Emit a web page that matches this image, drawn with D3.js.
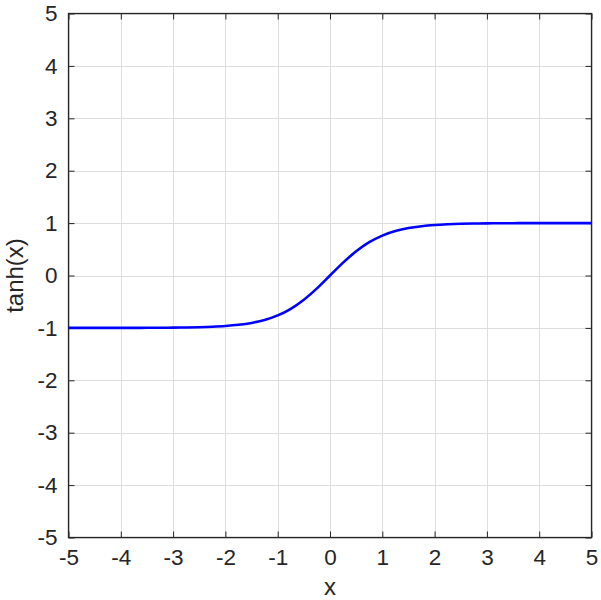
<!DOCTYPE html>
<html>
<head>
<meta charset="utf-8">
<script src="https://cdn.jsdelivr.net/npm/d3@7"></script>
<style>
  body { margin: 0; background: #fff; }
  text { font-family: "Liberation Sans", Arial, Helvetica, sans-serif; fill: #262626; }
</style>
</head>
<body>
<div id="chart"></div>
<script>
// values
var xValues = [-5, -4.75, -4.5, -4.25, -4, -3.75, -3.5, -3.25, -3, -2.75, -2.5, -2.25, -2, -1.75, -1.5, -1.25, -1, -0.75, -0.5, -0.25,
               0, 0.25, 0.5, 0.75, 1, 1.25, 1.5, 1.75, 2, 2.25, 2.5, 2.75, 3, 3.25, 3.5, 3.75, 4, 4.25, 4.5, 4.75, 5];
var yValues = [-1.0, -1.0, -1.0, -1.0, -0.999, -0.999, -0.998, -0.997, -0.995, -0.992, -0.987, -0.978, -0.964, -0.941, -0.905, -0.848, -0.762, -0.635, -0.462, -0.245,
               0, 0.245, 0.462, 0.635, 0.762, 0.848, 0.905, 0.941, 0.964, 0.978, 0.987, 0.992, 0.995, 0.997, 0.998, 0.999, 0.999, 1.0, 1.0, 1.0, 1.0];
var xTicks = [-5, -4, -3, -2, -1, 0, 1, 2, 3, 4, 5];
var yTicks = [-5, -4, -3, -2, -1, 0, 1, 2, 3, 4, 5];

var w = 601, h = 600,
    padL = 68.5, padR = 591.5, padT = 13.5, padB = 537.5;

var svg = d3.select('#chart').append('svg')
    .attr('width', w)
    .attr('height', h);

var x = d3.scaleLinear().domain([-5, 5]).range([padL, padR]);
var y = d3.scaleLinear().domain([-5, 5]).range([padB, padT]);

// grid
svg.append('g').selectAll('line').data(xTicks).enter().append('line')
    .attr('x1', function(d){ return Math.round(x(d)) + 0.5; })
    .attr('x2', function(d){ return Math.round(x(d)) + 0.5; })
    .attr('y1', padT).attr('y2', padB)
    .style('stroke', '#dedede').style('stroke-width', 1);
svg.append('g').selectAll('line').data(yTicks).enter().append('line')
    .attr('y1', function(d){ return Math.round(y(d)) + 0.5; })
    .attr('y2', function(d){ return Math.round(y(d)) + 0.5; })
    .attr('x1', padL).attr('x2', padR)
    .style('stroke', '#dedede').style('stroke-width', 1);

// axes with inward ticks
var tickLen = 6;
var fmt = function(d){ return String(d); };
var bottomAxis = d3.axisBottom(x).tickValues(xTicks).tickSizeInner(-tickLen).tickSizeOuter(0).tickPadding(12).tickFormat(fmt);
var topAxis = d3.axisTop(x).tickValues(xTicks).tickSizeInner(-tickLen).tickSizeOuter(0).tickFormat('');
var leftAxis = d3.axisLeft(y).tickValues(yTicks).tickSizeInner(-tickLen).tickSizeOuter(0).tickPadding(11).tickFormat(fmt);
var rightAxis = d3.axisRight(y).tickValues(yTicks).tickSizeInner(-tickLen).tickSizeOuter(0).tickFormat('');

function styleAxis(g) {
  g.select('.domain').remove();
  g.selectAll('line').style('stroke', '#262626');
  g.selectAll('text').style('font-size', '22.5px').attr('fill', '#262626')
    .style('font-family', '"Liberation Sans", Arial, sans-serif');
}

svg.append('g').attr('transform', 'translate(0,' + padB + ')').call(bottomAxis).call(styleAxis);
svg.append('g').attr('transform', 'translate(0,' + padT + ')').call(topAxis).call(styleAxis);
svg.append('g').attr('transform', 'translate(' + padL + ',0)').call(leftAxis).call(styleAxis);
svg.append('g').attr('transform', 'translate(' + padR + ',0)').call(rightAxis).call(styleAxis);

// box
svg.append('rect')
    .attr('x', padL).attr('y', padT)
    .attr('width', padR - padL).attr('height', padB - padT)
    .style('fill', 'none').style('stroke', '#262626').style('stroke-width', 1.3);

// curve
var line = d3.line()
    .x(function(d){ return x(d[0]); })
    .y(function(d){ return y(d[1]); })
    .curve(d3.curveMonotoneX);

svg.append('path')
    .datum(xValues.map(function(v, i){ return [v, yValues[i]]; }))
    .attr('d', line)
    .style('fill', 'none')
    .style('stroke', '#0000ff')
    .style('stroke-width', 2.6);

// labels
svg.append('text')
    .attr('x', (padL + padR) / 2)
    .attr('y', 595)
    .attr('text-anchor', 'middle')
    .style('font-size', '24px')
    .text('x');

svg.append('text')
    .attr('transform', 'translate(23,' + (padT + padB) / 2 + ') rotate(-90)')
    .attr('text-anchor', 'middle')
    .style('font-size', '24px')
    .text('tanh(x)');
</script>
</body>
</html>
